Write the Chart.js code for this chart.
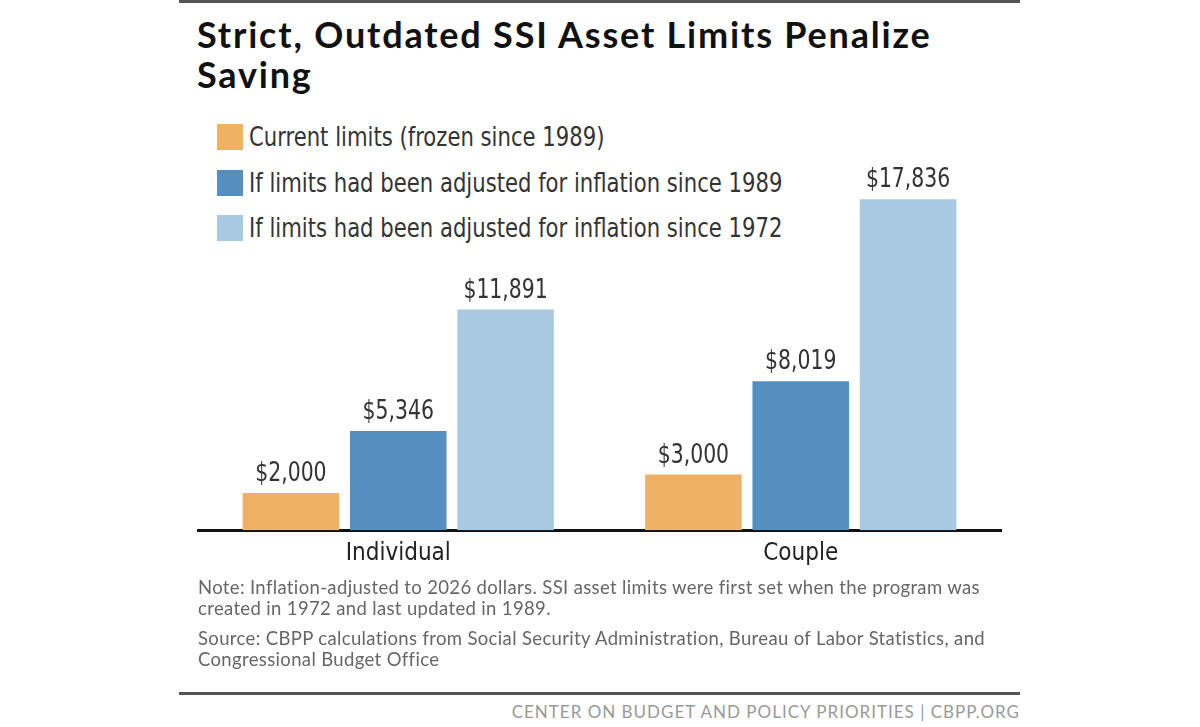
<!DOCTYPE html>
<html>
<head>
<meta charset="utf-8">
<script src="https://cdn.jsdelivr.net/npm/chart.js@4/dist/chart.umd.min.js"></script>
<style>
  html, body { margin: 0; padding: 0; background: #fff; }
  body { width: 1200px; height: 727px; position: relative; overflow: hidden; }
  .rule { position: absolute; left: 179px; width: 841px; background: #555; }
  #title {
    position: absolute; left: 197px; top: 14px; margin: 0;
    font: 700 36px/40px Lato, sans-serif; color: #111; letter-spacing: 1.8px;
  }
  #legend { position: absolute; left: 217px; top: 122px; }
  .item {
    height: 45.5px; display: flex; align-items: flex-start; white-space: nowrap;
    font: 26px/30px "DejaVu Sans Condensed", sans-serif; color: #333;
  }
  .item .txt { display: inline-block; transform: scaleX(0.905); transform-origin: left center; }
  .swatch { width: 26px; height: 26px; margin-right: 6px; margin-top: 2px; }
  #chart { position: absolute; left: 197px; top: 150px; }
  #notes {
    position: absolute; left: 198px; top: 577px; width: 840px; white-space: nowrap;
    font: 18.5px/21px Lato, sans-serif; color: #666; letter-spacing: 0.35px;
  }
  #notes p { margin: 0 0 9px 0; }
  #footer {
    position: absolute; right: 180px; top: 702px;
    font: 17px/20px Lato, sans-serif; color: #999; letter-spacing: 1px;
  }
</style>
</head>
<body>
<div class="rule" style="top:0;height:3px"></div>
<h1 id="title">Strict, Outdated SSI Asset Limits Penalize<br>Saving</h1>
<div id="legend"></div>
<canvas id="chart" width="805" height="427"></canvas>
<div id="notes">
  <p>Note: Inflation-adjusted to 2026 dollars. SSI asset limits were first set when the program was<br>created in 1972 and last updated in 1989.</p>
  <p>Source: CBPP calculations from Social Security Administration, Bureau of Labor Statistics, and<br>Congressional Budget Office</p>
</div>
<div class="rule" style="top:692px;height:3px"></div>
<div id="footer">CENTER ON BUDGET AND POLICY PRIORITIES | CBPP.ORG</div>

<script>
/* ~~~~~~~~~~ DATA ~~~~~~~~~~*/

const categories = ['Individual', 'Couple'];
const seriesNames = [
  'Current limits (frozen since 1989)',
  'If limits had been adjusted for inflation since 1989',
  'If limits had been adjusted for inflation since 1972',
];
const currentLimits = [2000, 3000];
const adjusted1989 = [5346, 8019];
const adjusted1972 = [11891, 17836];
const seriesColors = ['#EFB265', '#558FC0', '#A9C8E1'];

const condensed = '"DejaVu Sans Condensed", sans-serif';

/* ~~~~~~~~~~ LEGEND ~~~~~~~~~~*/

const legend = document.getElementById('legend');
seriesNames.forEach((name, i) => {
  const row = document.createElement('div');
  row.className = 'item';
  row.innerHTML = `<span class="swatch" style="background:${seriesColors[i]}"></span><span class="txt">${name}</span>`;
  legend.appendChild(row);
});

/* ~~~~~~~~~~ CHART ~~~~~~~~~~*/

// dollar labels on top of each bar (squeezed a bit, the original font is narrow)
const valueLabels = {
  id: 'valueLabels',
  afterDatasetsDraw(chart) {
    const ctx = chart.ctx;
    chart.data.datasets.forEach((ds, i) => {
      chart.getDatasetMeta(i).data.forEach((bar, j) => {
        ctx.save();
        ctx.font = '27px ' + condensed;
        ctx.fillStyle = '#333';
        ctx.textAlign = 'center';
        ctx.textBaseline = 'alphabetic';
        ctx.translate(bar.x, bar.y - 12);
        ctx.scale(0.84, 1);
        ctx.fillText('$' + ds.data[j].toLocaleString('en-US'), 0, 0);
        ctx.restore();
      });
    });
  }
};

const ctx = document.getElementById('chart').getContext('2d');

new Chart(ctx, {
  type: 'bar',
  data: {
    labels: categories,
    datasets: [currentLimits, adjusted1989, adjusted1972].map((values, i) => ({
      label: seriesNames[i],
      data: values,
      backgroundColor: seriesColors[i],
      categoryPercentage: 0.8,
      barPercentage: 0.9,
    })),
  },
  options: {
    responsive: false,
    animation: false,
    layout: { padding: { top: 9, left: 0, right: 0, bottom: 0 } },
    plugins: {
      legend: { display: false },
      tooltip: { enabled: false },
    },
    scales: {
      x: {
        grid: { display: false, drawTicks: false },
        border: { display: true, color: '#111', width: 3 },
        ticks: {
          color: '#222',
          padding: 9,
          font: { family: condensed, size: 24 },
        },
      },
      y: {
        display: false,
        min: 0,
        max: 20000,
      },
    },
  },
  plugins: [valueLabels],
});
</script>
</body>
</html>
